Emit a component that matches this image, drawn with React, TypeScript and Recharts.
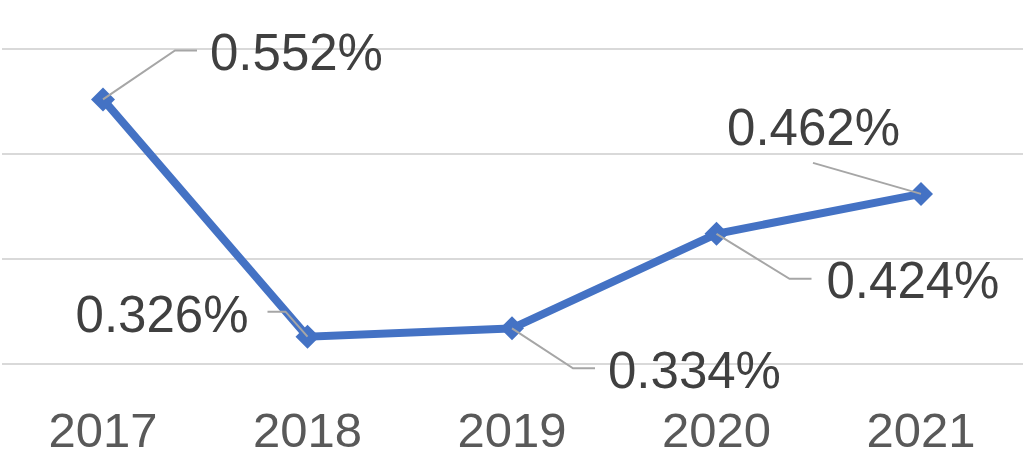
import { LineChart, Line, XAxis, YAxis, CartesianGrid, LabelList } from 'recharts'

const years = ['2017', '2018', '2019', '2020', '2021']
const rates = [0.552, 0.326, 0.334, 0.424, 0.462]
const yTicks = [0.3, 0.4, 0.5, 0.6]

const data = years.map((year, i) => ({ year, rate: rates[i] }))

const BLUE = '#4472C4'
const LEADER = '#A6A6A6'
const FONT = '"Liberation Sans", Arial, Helvetica, sans-serif'

// where each data label sits relative to its point, with the leader line path
const labelPlacement = [
  { leader: [[72, -49], [94, -49]], tx: 107, ty: -29, anchor: 'start' },
  { leader: [[-22, -25], [-40, -25]], tx: -59, ty: -5, anchor: 'end' },
  { leader: [[61, 40], [83, 40]], tx: 96, ty: 60, anchor: 'start' },
  { leader: [[73, 45], [95, 45]], tx: 110, ty: 64, anchor: 'start' },
  { leader: [[-108, -31]], tx: -21, ty: -49, anchor: 'end' },
]

const Diamond = (props: any) => {
  const { cx, cy } = props
  if (cx == null || cy == null) return null
  const r = 12
  return (
    <path
      d={`M${cx},${cy - r} L${cx + r},${cy} L${cx},${cy + r} L${cx - r},${cy} Z`}
      fill={BLUE}
    />
  )
}

const RateLabel = (props: any) => {
  const { x, y, value, index } = props
  const p = labelPlacement[index]
  if (!p) return null
  const pts = [[0, 0], ...p.leader].map(([dx, dy]) => `${x + dx},${y + dy}`).join(' ')
  return (
    <g>
      <polyline points={pts} fill="none" stroke={LEADER} strokeWidth={2} />
      <text
        x={x + p.tx}
        y={y + p.ty}
        textAnchor={p.anchor}
        fill="#404040"
        fontSize={51}
        fontFamily={FONT}
      >
        {`${value.toFixed(3)}%`}
      </text>
    </g>
  )
}

const YearTick = (props: any) => {
  const { x, y, payload } = props
  return (
    <text x={x} y={y + 75} textAnchor="middle" fill="#595959" fontSize={49} fontFamily={FONT}>
      {payload.value}
    </text>
  )
}

export default function App() {
  return (
    <div style={{ position: 'absolute', left: 0, top: 0, width: 1024, height: 461, background: '#fff' }}>
      <LineChart
        width={1024}
        height={461}
        data={data}
        margin={{ top: 49, right: 1, left: 2, bottom: 0 }}
      >
        <CartesianGrid vertical={false} stroke="#D9D9D9" strokeWidth={2} />
        <XAxis
          dataKey="year"
          axisLine={false}
          tickLine={false}
          height={97}
          tick={<YearTick />}
          interval={0}
          padding={{ left: 101, right: 102 }}
        />
        <YAxis hide domain={[0.3, 0.6]} ticks={yTicks} />
        <Line
          type="linear"
          dataKey="rate"
          stroke={BLUE}
          strokeWidth={8}
          dot={<Diamond />}
          activeDot={false}
          isAnimationActive={false}
        >
          <LabelList dataKey="rate" content={<RateLabel />} />
        </Line>
      </LineChart>
    </div>
  )
}
